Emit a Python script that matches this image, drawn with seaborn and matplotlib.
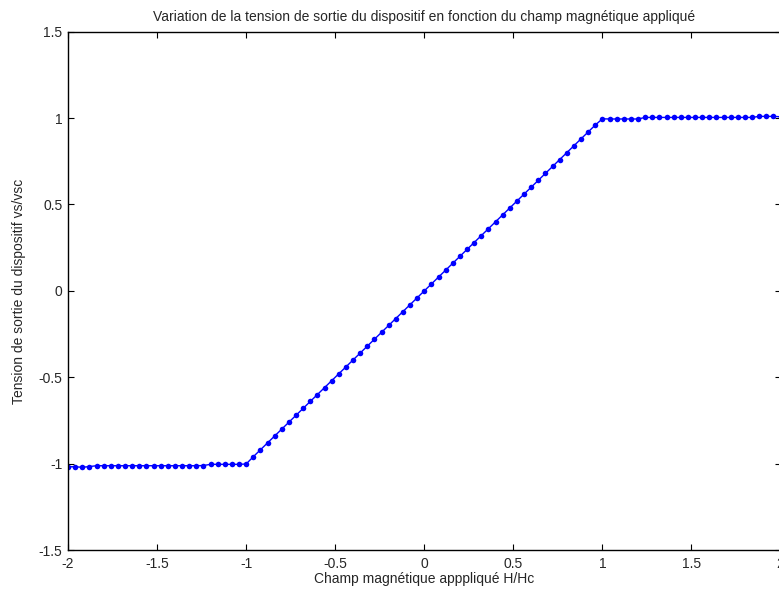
import matplotlib
matplotlib.use("Agg")
import matplotlib.pyplot as plt
import seaborn as sns
import pandas as pd

# champ applique H/Hc (pas de 0.04)
h_hc = [-2.00, -1.96, -1.92, -1.88, -1.84, -1.80, -1.76, -1.72, -1.68, -1.64,
        -1.60, -1.56, -1.52, -1.48, -1.44, -1.40, -1.36, -1.32, -1.28, -1.24,
        -1.20, -1.16, -1.12, -1.08, -1.04, -1.00, -0.96, -0.92, -0.88, -0.84,
        -0.80, -0.76, -0.72, -0.68, -0.64, -0.60, -0.56, -0.52, -0.48, -0.44,
        -0.40, -0.36, -0.32, -0.28, -0.24, -0.20, -0.16, -0.12, -0.08, -0.04,
        0.00, 0.04, 0.08, 0.12, 0.16, 0.20, 0.24, 0.28, 0.32, 0.36,
        0.40, 0.44, 0.48, 0.52, 0.56, 0.60, 0.64, 0.68, 0.72, 0.76,
        0.80, 0.84, 0.88, 0.92, 0.96, 1.00, 1.04, 1.08, 1.12, 1.16,
        1.20, 1.24, 1.28, 1.32, 1.36, 1.40, 1.44, 1.48, 1.52, 1.56,
        1.60, 1.64, 1.68, 1.72, 1.76, 1.80, 1.84, 1.88, 1.92, 1.96, 2.00]

# tension de sortie vs/vsc
vs_vsc = [-1.018, -1.018, -1.021, -1.017, -1.012, -1.012, -1.012, -1.012, -1.012, -1.012,
          -1.012, -1.012, -1.012, -1.012, -1.012, -1.012, -1.012, -1.012, -1.012, -1.011,
          -1.004, -1.004, -1.004, -1.004, -1.004, -1.002, -0.96, -0.92, -0.88, -0.84,
          -0.80, -0.76, -0.72, -0.68, -0.64, -0.60, -0.56, -0.52, -0.48, -0.44,
          -0.40, -0.36, -0.32, -0.28, -0.24, -0.20, -0.16, -0.12, -0.08, -0.04,
          0.00, 0.04, 0.08, 0.12, 0.16, 0.20, 0.24, 0.28, 0.32, 0.36,
          0.40, 0.44, 0.48, 0.52, 0.56, 0.60, 0.64, 0.68, 0.72, 0.76,
          0.80, 0.84, 0.88, 0.92, 0.96, 0.996, 0.995, 0.995, 0.995, 0.995,
          0.995, 1.004, 1.004, 1.004, 1.004, 1.004, 1.004, 1.004, 1.004, 1.004,
          1.004, 1.004, 1.004, 1.004, 1.004, 1.004, 1.004, 1.010, 1.010, 1.010, 1.008]

xticks = [-2, -1.5, -1, -0.5, 0, 0.5, 1, 1.5, 2]
xticklabels = ["-2", "-1.5", "-1", "-0.5", "0", "0.5", "1", "1.5", "2"]
yticks = [-1.5, -1, -0.5, 0, 0.5, 1, 1.5]
yticklabels = ["-1.5", "-1", "-0.5", "0", "0.5", "1", "1.5"]

df = pd.DataFrame({"H/Hc": h_hc, "vs/vsc": vs_vsc})

sns.set_style("ticks")
plt.rcParams["font.family"] = ["Liberation Sans", "DejaVu Sans"]
plt.rcParams["xtick.direction"] = "in"
plt.rcParams["ytick.direction"] = "in"

fig = plt.figure(figsize=(7.79, 5.92), dpi=100)
ax = fig.add_axes([0.0873, 0.0709, 0.9147, 0.8755])

sns.lineplot(data=df, x="H/Hc", y="vs/vsc", ax=ax, color="#0000ff",
             linewidth=1.0, marker="o", markersize=4, markeredgewidth=0,
             estimator=None, sort=False)

ax.set_xlim(-2, 2)
ax.set_ylim(-1.5, 1.5)
ax.set_xticks(xticks)
ax.set_xticklabels(xticklabels)
ax.set_yticks(yticks)
ax.set_yticklabels(yticklabels)
ax.tick_params(axis="both", labelsize=10, length=4, width=0.8, color="black",
               top=True, right=True)
ax.tick_params(axis="x", pad=5)
ax.tick_params(axis="y", pad=4)
for s in ax.spines.values():
    s.set_visible(True)
    s.set_color("black")
    s.set_linewidth(1.0)

ax.set_title("Variation de la tension de sortie du dispositif en fonction du champ magnétique appliqué",
             fontsize=10, pad=8)
ax.set_xlabel("Champ magnétique apppliqué H/Hc", fontsize=10, labelpad=1)
ax.set_ylabel("Tension de sortie du dispositif vs/vsc", fontsize=10, labelpad=9)

fig.savefig("out.png", dpi=100, facecolor="white")
